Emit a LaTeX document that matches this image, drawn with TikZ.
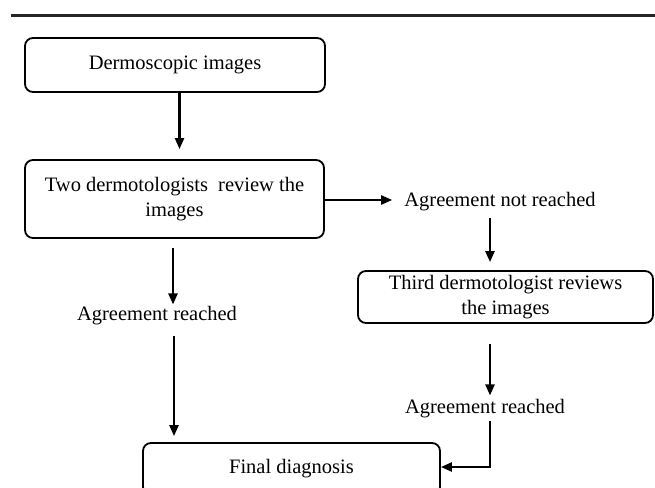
\documentclass[tikz,border=0pt]{standalone}
\usepackage{fontspec}
\setmainfont{Liberation Serif}
\usetikzlibrary{arrows.meta}
\begin{document}
\begin{tikzpicture}[x=1pt,y=-1pt,
  box/.style={draw=black, line width=1.8pt, rounded corners=8pt, align=center,
    inner sep=0pt, font=\fontsize{20.5}{25}\selectfont},
  lbl/.style={inner sep=2pt, font=\fontsize{20.5}{25}\selectfont},
  arr/.style={line width=2.3pt, -{Triangle[length=11pt,width=9pt]}}]
\useasboundingbox (0,0) rectangle (655,487);
\clip (0,0) rectangle (655,487);
\fill[white] (0,0) rectangle (655,487);
\coordinate (r1) at (11,15.5);
\coordinate (r2) at (655,15.5);
\draw[line width=3pt, black!85] (r1) -- (r2);

\node[box, minimum width=300pt, minimum height=54pt] (b1) at (175,65) {Dermoscopic images};
\node[box, minimum width=299pt, minimum height=78pt] (b2) at (174.5,199) {Two dermotologists\ \ review the\\images};
\node[box, minimum width=295pt, minimum height=52pt] (b3) at (505.5,297) {Third dermotologist reviews\\the images};
\node[box, minimum width=297pt, minimum height=52pt] (b4) at (291.5,469) {Final diagnosis};

\node[lbl] (nr) at (500,202) {Agreement not reached};
\node[lbl] (lar) at (157,316) {Agreement reached};
\node[lbl] (rar) at (485,409) {Agreement reached};

\draw[arr, shorten >=10pt] ([xshift=4.5pt]b1.south) -- ([xshift=4.5pt]b1.south |- b2.north);
\draw[arr, shorten >=10pt] (b2.east |- 0,200) -- (nr.west |- 0,200);
\draw[arr, shorten <=4pt, shorten >=8pt] (nr.south -| 490,0) -- (b3.north -| 490,0);
\draw[arr, shorten <=9pt] (b2.south -| 173,0) -- (lar.north -| 173,0);
\draw[arr, shorten <=8pt, shorten >=6pt] (lar.south -| 174,0) -- (b4.north -| 174,0);
\draw[arr, shorten <=20pt, shorten >=2pt] (b3.south -| 490,0) -- (rar.north -| 490,0);
\coordinate (bend) at (490,467);
\draw[arr] (rar.south -| 490,0) -- (bend) -- (b4.east |- bend);
\end{tikzpicture}
\end{document}
